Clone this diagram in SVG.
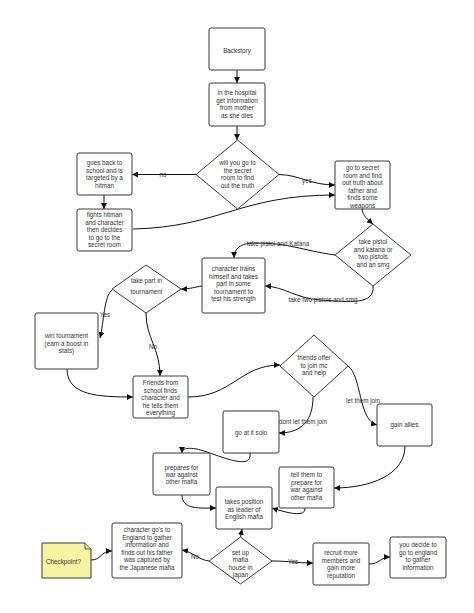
<svg xmlns="http://www.w3.org/2000/svg" width="474" height="613" viewBox="0 0 474 613">
<style>
.b{fill:#fff;stroke:#3a3a3a;stroke-width:1}
.t{font-family:"Liberation Sans",Arial,sans-serif;font-size:6.3px;fill:#333;text-anchor:middle}
.l{font-family:"Liberation Sans",Arial,sans-serif;font-size:6.3px;fill:#333;text-anchor:middle}
.c{fill:none;stroke:#111;stroke-width:1;marker-end:url(#a)}
.lb{fill:#fff}
</style>
<defs>
<marker id="a" markerUnits="userSpaceOnUse" markerWidth="7" markerHeight="6" refX="6" refY="3" orient="auto">
<path d="M0,0 L6,3 L0,6 Z" fill="#111"/>
</marker>
</defs>
<rect width="474" height="613" fill="#fff"/>
<g id="connectors">
<path class="c" d="M237,70 L237,83"/>
<path class="c" d="M237,126 L237,140"/>
<path class="c" d="M196,174.5 L132,174.5"/>
<path class="c" d="M279,174.5 C300,175 310,185 335,185"/>
<path class="c" d="M104,195 L104,209"/>
<path class="c" d="M133,229 C220,227 240,195 335,195"/>
<path class="c" d="M362,209 C363,216 367,219 373,224"/>
<path class="c" d="M335,255 C300,250 290,243 255,243 C240,243 234,249 234,258"/>
<path class="c" d="M373,286 C375,305 350,302 320,300 C295,298 285,287 265,286"/>
<path class="c" d="M202,286 C195,287 190,289 181,289"/>
<path class="c" d="M112,290 C104,296 104,322 100,338"/>
<path class="c" d="M146,313 C146,338 160,348 160,376"/>
<path class="c" d="M67,369 C67,396 100,397 133,397"/>
<path class="c" d="M188,397 C232,397 240,365 280,365"/>
<path class="c" d="M348,366 C362,376 358,420 377,425"/>
<path class="c" d="M313,397 C313,420 302,433 279,433"/>
<path class="c" d="M250,453 C252,468 232,461 207,452 C190,446 182,448 182,453"/>
<path class="c" d="M182,495 C182,510 200,508 216,508"/>
<path class="c" d="M405,446 C405,475 370,488 334,488"/>
<path class="c" d="M305,508 C306,517 290,514 272,508"/>
<path class="c" d="M240.5,537 L242,529"/>
<path class="c" d="M209,561 C199,560 193,552 182,550"/>
<path class="c" d="M272,561 C290,561 296,563 313,563"/>
<path class="c" d="M369,564 C380,564 380,557 390,557"/>
<path class="c" d="M91,560 C102,560 100,551 112,551"/>
<text class="l" x="163" y="177">no</text>
<text class="l" x="307" y="183">yes</text>
<text class="l" x="278" y="246">take pistol and Katana</text>
<text class="l" x="323" y="302">take two pistols and smg</text>
<text class="l" x="105" y="317">Yes</text>
<text class="l" x="153" y="349">No</text>
<text class="l" x="363" y="403">let them join</text>
<text class="l" x="303" y="424">dont let them join</text>
<text class="l" x="195" y="559">No</text>
<text class="l" x="293" y="564">Yes</text>
</g>
<g id="backstory">
<rect class="b" x="209" y="28" width="56" height="42" rx="2"/>
<text class="t" x="237" y="53">Backstory</text>
</g>
<g id="hospital">
<rect class="b" x="209" y="83" width="56" height="43" rx="2"/>
<text class="t" x="237" y="95">in the hospital</text>
<text class="t" x="237" y="102.5">get information</text>
<text class="t" x="237" y="110">from mother</text>
<text class="t" x="237" y="117.5">as she dies</text>
</g>
<g id="decision-truth">
<path class="b" d="M237.5,140 L279,174.5 L237.5,209 L196,174.5 Z"/>
<text class="t" x="237.5" y="165">will you go to</text>
<text class="t" x="237.5" y="172.5">the secret</text>
<text class="t" x="237.5" y="180">room to find</text>
<text class="t" x="237.5" y="187.5">out the truth</text>
</g>
<g id="goes-back">
<rect class="b" x="77" y="153" width="55" height="42" rx="2"/>
<text class="t" x="104.5" y="165">goes back to</text>
<text class="t" x="104.5" y="172.5">school and is</text>
<text class="t" x="104.5" y="180">targeted by a</text>
<text class="t" x="104.5" y="187.5">hitman</text>
</g>
<g id="fights-hitman">
<rect class="b" x="77" y="209" width="55" height="42" rx="2"/>
<text class="t" x="104.5" y="217">fights hitman</text>
<text class="t" x="104.5" y="224.5">and character</text>
<text class="t" x="104.5" y="232">then decides</text>
<text class="t" x="104.5" y="239.5">to go to the</text>
<text class="t" x="104.5" y="247">secret room</text>
</g>
<g id="secret-room">
<rect class="b" x="335" y="161" width="55" height="48" rx="2"/>
<text class="t" x="362.5" y="170">go to secret</text>
<text class="t" x="362.5" y="177.5">room and find</text>
<text class="t" x="362.5" y="185">out truth about</text>
<text class="t" x="362.5" y="192.5">father and</text>
<text class="t" x="362.5" y="200">finds some</text>
<text class="t" x="362.5" y="207.5">weapons</text>
</g>
<g id="decision-weapons">
<path class="b" d="M373,224 L411,255 L373,286 L335,255 Z"/>
<text class="t" x="373" y="244">take pistol</text>
<text class="t" x="373" y="251.5">and katana or</text>
<text class="t" x="373" y="259">two pistols</text>
<text class="t" x="373" y="266.5">and an smg</text>
</g>
<g id="trains">
<rect class="b" x="202" y="258" width="63" height="55" rx="2"/>
<text class="t" x="233.5" y="271">character trains</text>
<text class="t" x="233.5" y="278.5">himself and takes</text>
<text class="t" x="233.5" y="286">part in some</text>
<text class="t" x="233.5" y="293.5">tournament to</text>
<text class="t" x="233.5" y="301">test his strength</text>
</g>
<g id="decision-tournament">
<path class="b" d="M146,265 L181,289 L146,313 L112,289 Z"/>
<text class="t" x="146.5" y="283">take part in</text>
<text class="t" x="146.5" y="294">tournament</text>
</g>
<g id="win-tournament">
<rect class="b" x="35" y="313" width="63" height="56" rx="2"/>
<text class="t" x="66.5" y="338">win tournament</text>
<text class="t" x="66.5" y="345.5">(earn a boost in</text>
<text class="t" x="66.5" y="353">stats)</text>
</g>
<g id="friends">
<rect class="b" x="133" y="376" width="55" height="42" rx="2"/>
<text class="t" x="160.5" y="385">Friends from</text>
<text class="t" x="160.5" y="392.5">school finds</text>
<text class="t" x="160.5" y="400">character and</text>
<text class="t" x="160.5" y="407.5">he tells them</text>
<text class="t" x="160.5" y="415">everything</text>
</g>
<g id="decision-friends">
<path class="b" d="M314,335 L348,366 L314,397 L280,366 Z"/>
<text class="t" x="314" y="360">friends offer</text>
<text class="t" x="314" y="367.5">to join mc</text>
<text class="t" x="314" y="375">and help</text>
</g>
<g id="solo">
<rect class="b" x="223" y="411" width="56" height="42" rx="2"/>
<text class="t" x="251" y="435">go at it solo</text>
</g>
<g id="gain-allies">
<rect class="b" x="377" y="404" width="55" height="42" rx="2"/>
<text class="t" x="404.5" y="427">gain allies</text>
</g>
<g id="prepares">
<rect class="b" x="153" y="453" width="57" height="42" rx="2"/>
<text class="t" x="181.5" y="470">prepares for</text>
<text class="t" x="181.5" y="477">war against</text>
<text class="t" x="181.5" y="484">other mafia</text>
</g>
<g id="tell-them">
<rect class="b" x="279" y="467" width="55" height="41" rx="2"/>
<text class="t" x="306.5" y="477">tell them to</text>
<text class="t" x="306.5" y="484.5">prepare for</text>
<text class="t" x="306.5" y="492">war against</text>
<text class="t" x="306.5" y="499.5">other mafia</text>
</g>
<g id="leader">
<rect class="b" x="216" y="487" width="56" height="42" rx="2"/>
<text class="t" x="244" y="504">takes position</text>
<text class="t" x="244" y="511.5">as leader of</text>
<text class="t" x="244" y="519">English mafia</text>
</g>
<g id="decision-japan">
<path class="b" d="M240.5,537 L272,561 L240.5,584 L209,561 Z"/>
<text class="t" x="240.5" y="555">set up</text>
<text class="t" x="240.5" y="562.3">mafia</text>
<text class="t" x="240.5" y="569.6">house in</text>
<text class="t" x="240.5" y="577">japan</text>
</g>
<g id="england">
<rect class="b" x="112" y="523" width="70" height="55" rx="2"/>
<text class="t" x="147" y="532">character go's to</text>
<text class="t" x="147" y="539.6">England to gather</text>
<text class="t" x="147" y="547.2">information and</text>
<text class="t" x="147" y="554.8">finds out his father</text>
<text class="t" x="147" y="562.4">was captured by</text>
<text class="t" x="147" y="570">the Japanese mafia</text>
</g>
<g id="checkpoint">
<path d="M42,543 L85,543 L91,549 L91,578 L42,578 Z" fill="#f6f3a2" stroke="#3a3a3a" stroke-width="1"/>
<path d="M85,543 L85,549 L91,549" fill="#e0dc8a" stroke="#3a3a3a" stroke-width="0.8"/>
<text x="46" y="564" style="font-family:'Liberation Sans',Arial,sans-serif;font-size:6.3px;fill:#333">Checkpoint?</text>
</g>
<g id="recruit">
<rect class="b" x="313" y="543" width="56" height="42" rx="2"/>
<text class="t" x="341" y="555">recruit more</text>
<text class="t" x="341" y="562.6">members and</text>
<text class="t" x="341" y="570.2">gain more</text>
<text class="t" x="341" y="577.8">reputation</text>
</g>
<g id="decide">
<rect class="b" x="390" y="537" width="56" height="41" rx="2"/>
<text class="t" x="418" y="547">you decide to</text>
<text class="t" x="418" y="554.6">go to england</text>
<text class="t" x="418" y="562.2">to gather</text>
<text class="t" x="418" y="569.8">information</text>
</g>
</svg>
